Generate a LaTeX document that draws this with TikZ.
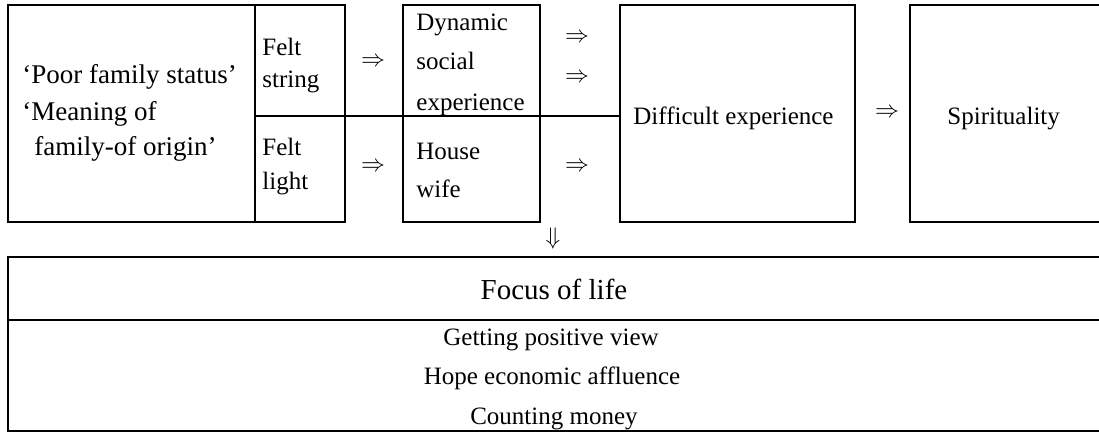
\documentclass[tikz,border=0pt]{standalone}
\usepackage{fontspec}
\setmainfont{Liberation Serif}
\usepackage{amsmath,amssymb}
\usetikzlibrary{calc}
\newcommand{\cellbox}[4]{ \draw[cellline] ( #1 , #2 ) rectangle ( #3 , #4 );}
\newcommand{\lbltext}[4]{\node[lbl] (#1) at ( #2 , #3 ) {#4};}
\newcommand{\lblmid}[4]{\node[lblc] (#1) at ( #2 , #3 ) {#4};}

\begin{document}
\begin{tikzpicture}[x=0.5pt,y=-0.5pt,
  cellline/.style={line width=0.7pt},
  lbl/.style={anchor=mid west,inner sep=0pt,font=\fontsize{12.5}{14}\selectfont},
  lblc/.style={lbl,anchor=mid}]
\useasboundingbox (0,0) rectangle (1099,432);
% top row of cells
\cellbox{8}{5}{255}{222}
\cellbox{255}{5}{345}{222}
\cellbox{403}{5}{540}{222}
\cellbox{620}{5}{855}{222}
\cellbox{910}{5}{1099.5}{222}
\draw[cellline] (255,116) -- (620,116);
% bottom cell
\cellbox{8}{257}{1099.5}{431}
\draw[cellline] (8,320) -- (1099.5,320);
% origin labels
\node[lbl,font=\fontsize{13.5}{15}\selectfont] (poor) at (22,79) {`Poor family status'};
\node[lbl,font=\fontsize{13.5}{15}\selectfont] (meaning) at (22,116) {`Meaning of};
\node[lbl,font=\fontsize{13.5}{15}\selectfont] (origin) at (34,151) {family-of origin'};
% felt labels
\lbltext{feltA}{262}{51}{Felt}
\lbltext{string}{262}{83}{string}
\lbltext{feltB}{262}{151}{Felt}
\lbltext{light}{262}{185}{light}
\lblmid{arrA}{373}{62}{$\Rightarrow$}
\lblmid{arrB}{373}{167}{$\Rightarrow$}
% experience labels
\lbltext{dynamic}{416}{26}{Dynamic}
\lbltext{social}{416}{65}{social}
\lbltext{experience}{416}{106}{experience}
\lbltext{house}{416}{155}{House}
\lbltext{wife}{416}{193}{wife}
\lblmid{arrC}{577}{38}{$\Rightarrow$}
\lblmid{arrD}{577}{78}{$\Rightarrow$}
\lblmid{arrE}{577}{167}{$\Rightarrow$}
% result labels
\lbltext{difficult}{633}{120}{Difficult experience}
\lblmid{arrF}{887}{113}{$\Rightarrow$}
\lbltext{spirit}{947}{120}{Spirituality}
\lblmid{arrDown}{553}{240}{$\Downarrow$}
% focus of life
\node[lblc,font=\fontsize{14.5}{16}\selectfont] (focus) at (554,295) {Focus of life};
\lblmid{positive}{551}{341}{Getting positive view}
\lblmid{hope}{552}{380}{Hope economic affluence}
\lblmid{money}{554}{420}{Counting money}
\end{tikzpicture}
\end{document}
